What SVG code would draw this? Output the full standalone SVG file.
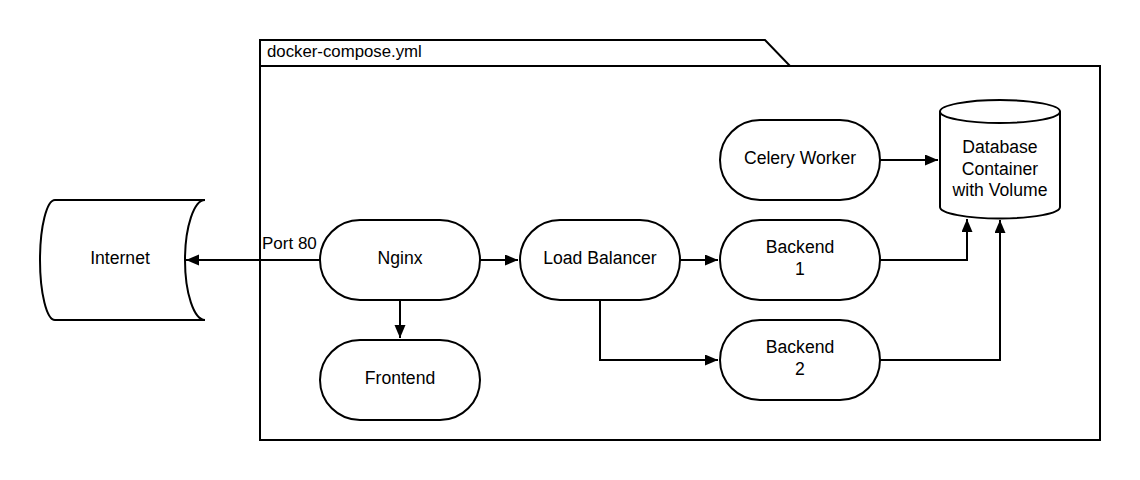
<svg xmlns="http://www.w3.org/2000/svg" width="1140" height="480" viewBox="0 0 1140 480">
<style>
.s{fill:#fff;stroke:#000;stroke-width:2}
.t{font-family:"Liberation Sans",Arial,sans-serif;font-size:17.6px;fill:#000;text-anchor:middle}
.c{fill:none;stroke:#000;stroke-width:2}
</style>
<defs>
<marker id="a" markerUnits="userSpaceOnUse" markerWidth="14" markerHeight="12" refX="13" refY="5.5" orient="auto">
<path d="M0,0 L13,5.5 L0,11 Z" fill="#000"/>
</marker>
</defs>
<rect width="1140" height="480" fill="#fff"/>
<g id="frame">
<path class="s" d="M260,66 V40 H765 L790,66 H1100 V440 H260 Z"/>
<line x1="260" y1="66" x2="790" y2="66" stroke="#000" stroke-width="2"/>
<text x="267" y="57" font-family="'Liberation Sans',Arial,sans-serif" font-size="16.8">docker-compose.yml</text>
</g>
<g id="connectors">
<path class="c" d="M320,260 H186" marker-end="url(#a)"/>
<path class="c" d="M480,260 H518" marker-end="url(#a)"/>
<path class="c" d="M400,300 V338" marker-end="url(#a)"/>
<path class="c" d="M680,260 H718" marker-end="url(#a)"/>
<path class="c" d="M600,300 V360 H718" marker-end="url(#a)"/>
<path class="c" d="M880,160 H938" marker-end="url(#a)"/>
<path class="c" d="M880,260 H967 V219" marker-end="url(#a)"/>
<path class="c" d="M880,360 H1000 V220" marker-end="url(#a)"/>
<text x="262" y="249" font-family="'Liberation Sans',Arial,sans-serif" font-size="17">Port 80</text>
</g>
<g id="internet">
<path class="s" d="M55,200 H205 A20,60 0 0 0 205,320 H55 A15,60 0 0 1 55,200 Z"/>
<text class="t" x="120" y="264">Internet</text>
</g>
<g id="nginx">
<rect class="s" x="320" y="220" width="160" height="80" rx="40"/>
<text class="t" x="400" y="264">Nginx</text>
</g>
<g id="frontend">
<rect class="s" x="320" y="340" width="160" height="80" rx="40"/>
<text class="t" x="400" y="384">Frontend</text>
</g>
<g id="loadbalancer">
<rect class="s" x="520" y="220" width="160" height="80" rx="40"/>
<text class="t" x="600" y="264">Load Balancer</text>
</g>
<g id="celery">
<rect class="s" x="720" y="120" width="160" height="80" rx="40"/>
<text class="t" x="800" y="164">Celery Worker</text>
</g>
<g id="backend1">
<rect class="s" x="720" y="220" width="160" height="80" rx="40"/>
<text class="t" x="800" y="253">Backend</text>
<text class="t" x="800" y="275">1</text>
</g>
<g id="backend2">
<rect class="s" x="720" y="320" width="160" height="80" rx="40"/>
<text class="t" x="800" y="353">Backend</text>
<text class="t" x="800" y="375">2</text>
</g>
<g id="database">
<path class="s" d="M940,111.5 A60,11.5 0 0 1 1060,111.5 V207 A60,11.5 0 0 1 940,207 Z"/>
<path class="c" d="M940,111.5 A60,11.5 0 0 0 1060,111.5"/>
<text class="t" x="1000" y="153">Database</text>
<text class="t" x="1000" y="175">Container</text>
<text class="t" x="1000" y="196">with Volume</text>
</g>
</svg>
